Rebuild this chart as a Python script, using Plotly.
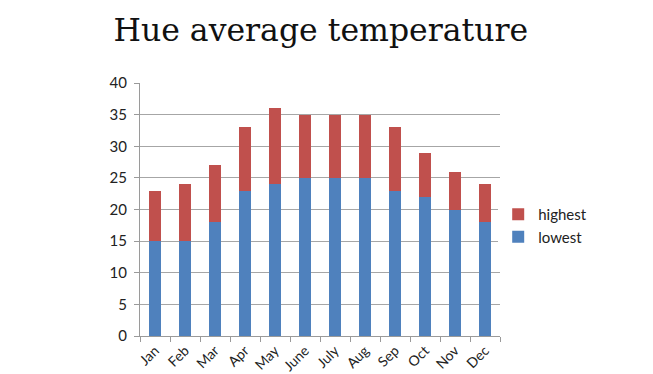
import plotly.graph_objects as go

months = ["Jan", "Feb", "Mar", "Apr", "May", "June", "July", "Aug", "Sep", "Oct", "Nov", "Dec"]
lowest = [15, 15, 18, 23, 24, 25, 25, 25, 23, 22, 20, 18]
highest = [23, 24, 27, 33, 36, 35, 35, 35, 33, 29, 26, 24]
y_ticks = [0, 5, 10, 15, 20, 25, 30, 35, 40]

spread = [h - l for h, l in zip(highest, lowest)]

fig = go.Figure()
fig.add_trace(go.Bar(x=months, y=lowest, name="lowest", marker_color="#4F81BD",
                     marker_line_width=0, width=0.4))
fig.add_trace(go.Bar(x=months, y=spread, name="highest", marker_color="#C0504D",
                     marker_line_width=0, width=0.4))

fig.update_layout(
    barmode="stack",
    width=645, height=366,
    margin=dict(l=132, r=153, t=75, b=38),
    paper_bgcolor="white", plot_bgcolor="white",
    title=dict(text="Hue average temperature", x=0.485, xanchor="center", y=0.94, yanchor="middle",
               font=dict(family="DejaVu Serif", size=31.5, color="#111111")),
    font=dict(family="Lato", size=15, color="#222222"),
    legend=dict(x=0.995, y=0.545, xanchor="left", yanchor="top", traceorder="reversed",
                font=dict(size=15, color="#222222"), itemwidth=30),
    showlegend=True,
)
fig.update_xaxes(showline=True, linecolor="#9a9a9a", linewidth=1, ticks="outside",
                 tickson="boundaries", ticklen=5, tickcolor="#9a9a9a", tickangle=-45,
                 tickfont=dict(size=14), showgrid=False, automargin=False)
fig.update_yaxes(range=[0, 40], tickvals=y_ticks, showline=True, linecolor="#9a9a9a",
                 linewidth=1, ticks="outside", ticklen=5, tickcolor="#9a9a9a",
                 showgrid=True, gridcolor="#a6a6a6", gridwidth=1, zeroline=False,
                 automargin=False, ticklabelstandoff=4)

fig.write_html("out.html")
